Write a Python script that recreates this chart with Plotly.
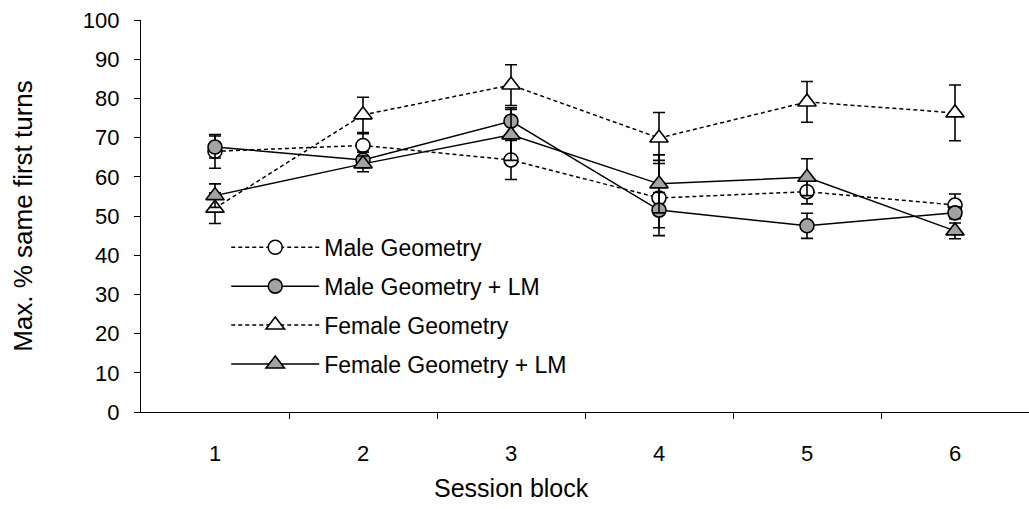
import plotly.graph_objects as go

# Session blocks (x categories)
blocks = [1, 2, 3, 4, 5, 6]
tick_labels = ["1", "2", "3", "4", "5", "6"]

# Max. % same first turns, mean and error per block
male_geom = [66.5, 68.0, 64.3, 54.6, 56.2, 52.8]
male_geom_err = [4.3, 3.0, 5.0, 9.6, 3.1, 2.8]

male_geom_lm = [67.6, 64.3, 74.2, 51.5, 47.5, 50.8]
male_geom_lm_err = [2.8, 2.0, 3.4, 4.5, 3.2, 1.5]

female_geom = [52.0, 75.8, 83.4, 69.9, 79.1, 76.3]
female_geom_err = [3.9, 4.5, 5.2, 6.5, 5.2, 7.1]

female_geom_lm = [55.2, 63.3, 70.7, 58.2, 59.9, 46.2]
female_geom_lm_err = [3.0, 2.0, 6.5, 7.4, 4.7, 2.0]

FONT = "Liberation Sans, Arial, sans-serif"
GREY = "#a3a3a3"

series = [
    ("Male Geometry", male_geom, male_geom_err, "circle", "white", "dash"),
    ("Male Geometry + LM", male_geom_lm, male_geom_lm_err, "circle", GREY, "solid"),
    ("Female Geometry", female_geom, female_geom_err, "triangle-up", "white", "dash"),
    ("Female Geometry + LM", female_geom_lm, female_geom_lm_err, "triangle-up", GREY, "solid"),
]

fig = go.Figure()
for i, (name, vals, errs, sym, fill, dash) in enumerate(series):
    fig.add_trace(go.Scatter(
        x=blocks, y=vals, name=name, mode="lines+markers",
        legendgroup=f"g{i}",
        line=dict(color="black", width=1.5, dash="4px,3px" if dash == "dash" else "solid"),
        marker=dict(symbol=sym, size=14 if sym == "circle" else 16, color=fill,
                    line=dict(color="black", width=1.6)),
        error_y=dict(type="data", array=errs, visible=True, color="black",
                     thickness=1.6, width=6),
        cliponaxis=False,
    ))

fig.update_layout(
    width=1029, height=509,
    margin=dict(l=141, r=0, t=20, b=97),
    paper_bgcolor="white", plot_bgcolor="white",
    font=dict(family=FONT, size=22, color="black"),
    showlegend=True,
    legend=dict(x=0.096, y=0.475, xanchor="left", yanchor="top",
                bgcolor="rgba(0,0,0,0)", font=dict(size=23, family=FONT),
                tracegroupgap=6, itemwidth=88),
    xaxis=dict(
        range=[0.5, 6.5], tickmode="array", tickvals=blocks, ticktext=tick_labels,
        ticks="", showgrid=False, zeroline=False,
        showline=True, linecolor="black", linewidth=1.3,
        ticklabelstandoff=21,
        tickfont=dict(size=22, family=FONT),
        minor=dict(tickmode="array", tickvals=[1.5, 2.5, 3.5, 4.5, 5.5],
                   ticks="outside", ticklen=6, tickcolor="black", tickwidth=1,
                   showgrid=False),
    ),
    yaxis=dict(
        range=[0, 100], tickmode="array", tickvals=list(range(0, 101, 10)),
        ticks="outside", ticklen=6, tickcolor="black", tickwidth=1,
        showgrid=False, zeroline=False,
        showline=True, linecolor="black", linewidth=1.3,
        ticklabelstandoff=10,
        tickfont=dict(size=22, family=FONT),
        title=dict(text="Max. % same first turns", font=dict(size=26, family=FONT), standoff=42),
    ),
    annotations=[dict(
        text="Session block", xref="paper", yref="paper",
        x=0.4167, y=-0.195, xanchor="center", yanchor="middle",
        showarrow=False, font=dict(size=25, family=FONT),
    )],
)

fig.write_html("out.html")
